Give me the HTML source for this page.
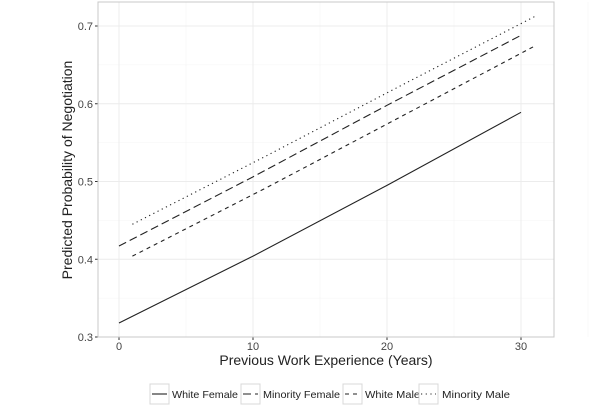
<!DOCTYPE html>
<html><head><meta charset="utf-8"><style>
body{margin:0;background:#fff}
svg{display:block;font-family:"Liberation Sans",Arial,sans-serif}
</style></head><body>
<svg id="c" width="616" height="411"></svg>
<script>
const xTicks=[0,10,20,30];
const yTicks=[0.3,0.4,0.5,0.6,0.7];
const seriesNames=["White Female","Minority Female","White Male","Minority Male"];
const wfX=[0,10,20,30], wfY=[0.318,0.404,0.495,0.589];
const mfX=[0,10,20,30], mfY=[0.417,0.506,0.598,0.688];
const wmX=[1,11,21,31], wmY=[0.404,0.492,0.583,0.674];
const mmX=[1,11,21,31], mmY=[0.445,0.533,0.623,0.712];
const dashes=["","8,4","4,4","1.2,3.5"];
const NS="http://www.w3.org/2000/svg";
const svg=document.getElementById('c');
const L=98,R=554,T=2,B=337;
const sx=v=>119+(v-0)*(521-119)/30;
const sy=v=>337-(v-0.3)*777.5;
function el(t,a,p){const e=document.createElementNS(NS,t);for(const k in a)e.setAttribute(k,a[k]);(p||svg).appendChild(e);return e;}
const panel=el('rect',{x:L,y:T,width:R-L,height:B-T,fill:'#fff',stroke:'none'});


for(let v=5;v<=35;v+=10){const g=el('line',{x1:sx(v),x2:sx(v),y1:T,y2:B,stroke:'#f4f4f4','stroke-width':0.6});}
for(let v=0.35;v<0.75;v+=0.1){const g=el('line',{x1:L,x2:R,y1:sy(v),y2:sy(v),stroke:'#f4f4f4','stroke-width':0.6});}
xTicks.forEach(v=>{
const g=el('line',{x1:sx(v),x2:sx(v),y1:T,y2:B,stroke:'#ececec','stroke-width':1});

const t=el('line',{x1:sx(v),x2:sx(v),y1:B,y2:B+3,stroke:'#333'});

const l=el('text',{x:sx(v),y:B+13,'text-anchor':'middle','font-size':11,fill:'#444'});l.textContent=v;

});
yTicks.forEach(v=>{
const g=el('line',{x1:L,x2:R,y1:sy(v),y2:sy(v),stroke:'#ececec','stroke-width':1});

const t=el('line',{x1:L-3,x2:L,y1:sy(v),y2:sy(v),stroke:'#333'});

const l=el('text',{x:L-5,y:sy(v)+4,'text-anchor':'end','font-size':11,fill:'#444'});l.textContent=v.toFixed(1);

});
const bd=el('rect',{x:L,y:T,width:R-L,height:B-T,fill:'none',stroke:'#c8c8c8','stroke-width':1});

const X=[wfX,mfX,wmX,mmX],Y=[wfY,mfY,wmY,mmY];
const ids=['line-white-female','line-minority-female','line-white-male','line-minority-male'];
for(let i=0;i<4;i++){
const d=X[i].map((x,j)=>(j?'L':'M')+sx(x)+','+sy(Y[i][j])).join(' ');
const p=el('path',{d:d,fill:'none',stroke:'#222','stroke-width':1.1,'stroke-dasharray':dashes[i]});

}
const xt=el('text',{x:326,y:365,'text-anchor':'middle','font-size':14,fill:'#222'});xt.textContent='Previous Work Experience (Years)';

const yt=el('text',{x:0,y:0,'text-anchor':'middle','font-size':14,fill:'#222',transform:'translate(72,170) rotate(-90)'});yt.textContent='Predicted Probability of Negotiation';

const lg=[[150,172],[241,263],[343,365],[419,442]];
const lw=[66,77,55,68];
for(let i=0;i<4;i++){
const g=el('g',{});

el('rect',{x:lg[i][0],y:384,width:19,height:20,fill:'#fff',stroke:'#d8d8d8'},g);
el('line',{x1:lg[i][0]+2,x2:lg[i][0]+17,y1:394,y2:394,stroke:'#222','stroke-width':1.1,'stroke-dasharray':dashes[i]},g);
const t=el('text',{x:lg[i][1],y:398,'font-size':10.5,fill:'#222',textLength:lw[i],lengthAdjust:'spacingAndGlyphs'},g);t.textContent=seriesNames[i];
}
</script>
</body></html>
